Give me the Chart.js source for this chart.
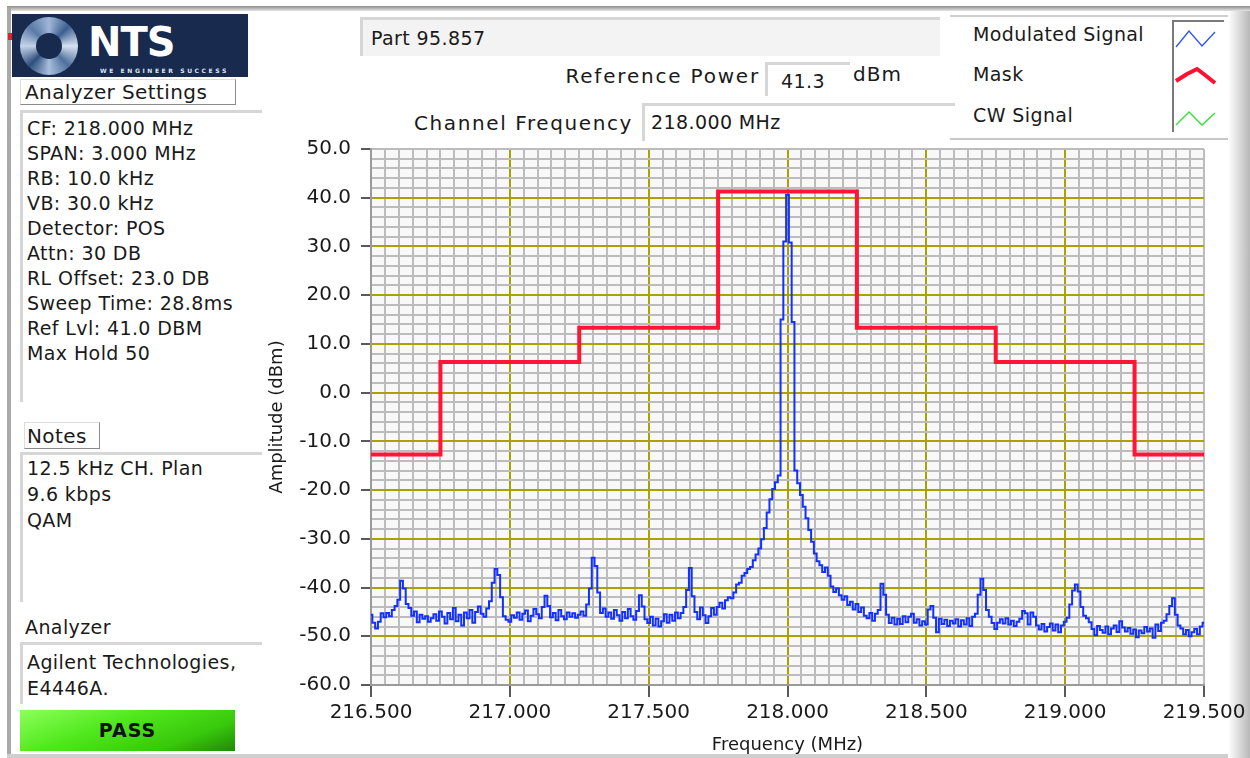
<!DOCTYPE html>
<html>
<head>
<meta charset="utf-8">
<title>Part 95.857 - Mask</title>
<script src="https://cdn.jsdelivr.net/npm/chart.js@4/dist/chart.umd.min.js"></script>
<style>
  body { margin: 0; width: 1250px; height: 758px; background: #fff; position: relative; overflow: hidden;
         font-family: "DejaVu Sans", sans-serif; color: #1a1a1a; }
  .abs { position: absolute; }
  .txt { font-size: 19px; letter-spacing: 0.4px; white-space: nowrap; }
  .box { background: #fff; border-top: 3px solid #d6d6d6; border-left: 3px solid #d6d6d6; box-sizing: border-box; }
  #chartWrap { left: 260px; top: 127px; width: 990px; height: 631px; }
</style>
</head>
<body>
<!-- marco del panel -->
<div class="abs" style="left:7px;top:6px;width:1243px;height:5px;background:linear-gradient(#8c8c8c,#e4e4e4);"></div>
<div class="abs" style="left:7px;top:8px;width:4px;height:750px;background:#a9a9a9;"></div>
<div class="abs" style="left:7px;top:754px;width:1243px;height:4px;background:#cfcfcf;"></div>
<div class="abs" style="left:1228px;top:11px;width:22px;height:747px;background:linear-gradient(90deg,#fff,#b8b8b8);"></div>
<div class="abs" style="left:8px;top:33px;width:4px;height:7px;background:#e0202a;"></div>

<!-- logo -->
<div class="abs" style="left:12px;top:14px;width:236px;height:63px;background:#182a4e;overflow:hidden;">
  <div class="abs" style="left:8px;top:3px;width:58px;height:58px;border-radius:50%;
       background:conic-gradient(#9fb6d8,#3d5f8f,#d7e2f0,#506f9c,#a8bfdc,#2e4f7e,#c4d3e8,#5a79a6,#9fb6d8);"></div>
  <div class="abs" style="left:24px;top:19px;width:26px;height:26px;border-radius:50%;background:#182a4e;"></div>
  <div class="abs" style="left:76px;top:5px;font:900 40px 'DejaVu Sans';color:#fff;letter-spacing:-1px;">NTS</div>
  <div class="abs" style="left:88px;top:53px;font:bold 6px 'DejaVu Sans';color:#dfe6f2;letter-spacing:2.6px;">WE ENGINEER SUCCESS</div>
</div>

<!-- columna izquierda -->
<div class="abs txt" style="left:20px;top:79px;width:216px;height:26px;border:1px solid #8a8a8a;border-left-color:#ddd;border-top-color:#ddd;box-sizing:border-box;padding-left:4px;line-height:25px;font-size:20px;">Analyzer Settings</div>
<div class="abs box" style="left:20px;top:110px;width:242px;height:292px;"></div>
<div class="abs txt" id="settings" style="left:27px;top:116px;"></div>

<div class="abs txt" style="left:24px;top:422px;width:76px;height:27px;border:1px solid #8a8a8a;border-left-color:#ddd;border-top-color:#ddd;box-sizing:border-box;padding-left:2px;line-height:26px;font-size:20px;">Notes</div>
<div class="abs box" style="left:20px;top:452px;width:242px;height:150px;"></div>
<div class="abs txt" id="notes" style="left:27px;top:455px;"></div>

<div class="abs txt" style="left:25px;top:616px;font-size:19px;">Analyzer</div>
<div class="abs box" style="left:20px;top:642px;width:242px;height:62px;"></div>
<div class="abs txt" id="analyzer" style="left:27px;top:649px;"></div>

<div class="abs" style="left:20px;top:710px;width:215px;height:41px;background:linear-gradient(160deg,#8dff5a 0%,#4fe81c 40%,#38c80c 75%,#1e8a06 100%);
     text-align:center;font:bold 19px 'DejaVu Sans';line-height:41px;letter-spacing:1px;color:#111;">PASS</div>

<!-- cabecera -->
<div class="abs box txt" style="left:360px;top:17px;width:580px;height:39px;background:#f3f3f3;padding-left:8px;line-height:36px;">Part 95.857</div>
<div class="abs txt" style="left:500px;top:64px;width:260px;text-align:right;font-size:20px;letter-spacing:1.8px;">Reference Power</div>
<div class="abs box txt" style="left:765px;top:62px;width:85px;height:34px;padding-left:13px;line-height:32px;">41.3</div>
<div class="abs txt" style="left:853px;top:62px;font-size:20px;letter-spacing:1px;">dBm</div>
<div class="abs txt" style="left:360px;top:111px;width:273px;text-align:right;font-size:20px;letter-spacing:1.6px;">Channel Frequency</div>
<div class="abs box txt" style="left:642px;top:103px;width:313px;height:38px;padding-left:6px;line-height:32px;">218.000 MHz</div>

<!-- leyenda -->
<div class="abs" style="left:950px;top:15px;width:278px;height:121px;border-top:2px solid #d0d0d0;border-bottom:2px solid #c8c8c8;"></div>
<div class="abs txt" style="left:973px;top:23px;">Modulated Signal</div>
<div class="abs txt" style="left:973px;top:63px;">Mask</div>
<div class="abs txt" style="left:973px;top:104px;">CW Signal</div>
<svg class="abs" style="left:1172px;top:20px;" width="52" height="112">
  <path d="M1 0 V112 M1 1 H52" stroke="#7a7a7a" stroke-width="2" fill="none"/>
  <polyline points="4,27 17,11 30,26 43,12" stroke="#2a50ff" stroke-width="1.3" fill="none"/>
  <polyline points="4,61 15,54 25,49 33,55 43,63" stroke="#ff1030" stroke-width="4" fill="none"/>
  <polyline points="4,105 17,92 30,105 43,93" stroke="#30e030" stroke-width="1.3" fill="none"/>
</svg>

<div class="abs" id="chartWrap"><canvas id="maskChart"></canvas></div>

<script>
const freqStart = 216.5;
const freqStep = 0.01;
const modulatedSignal = [
  -45.6, -47.2, -48.4, -47.0, -45.3, -46.1, -45.2, -45.9, -44.6, -43.8, // 216.50
  -42.5, -38.6, -40.2, -43.4, -44.2, -45.8, -44.9, -47.1, -45.6, -46.4, // 216.60
  -45.9, -47.0, -46.3, -45.5, -46.8, -44.9, -46.0, -47.4, -45.2, -46.5, // 216.70
  -44.2, -46.9, -45.6, -47.8, -45.1, -46.3, -44.6, -47.2, -45.0, -43.9, // 216.80
  -45.4, -46.0, -44.3, -42.8, -39.0, -36.2, -37.4, -42.0, -45.9, -46.6, // 216.90
  -47.0, -45.7, -46.2, -45.1, -46.6, -45.4, -44.7, -46.9, -45.8, -44.4, // 217.00
  -45.5, -46.3, -44.0, -41.7, -43.8, -46.1, -45.2, -46.7, -44.6, -45.9, // 217.10
  -46.5, -45.1, -46.0, -45.3, -46.2, -45.6, -44.9, -45.8, -43.5, -40.2, // 217.20
  -33.9, -35.6, -41.0, -45.2, -44.3, -46.0, -45.1, -46.4, -44.6, -45.7, // 217.30
  -46.8, -45.0, -46.3, -44.4, -45.9, -46.6, -44.8, -41.6, -43.9, -46.5, // 217.40
  -47.3, -46.0, -47.8, -46.4, -48.0, -46.9, -45.5, -47.2, -45.6, -46.8, // 217.50
  -45.1, -46.3, -45.2, -44.0, -40.5, -36.0, -41.8, -45.0, -46.5, -44.1, // 217.60
  -45.7, -47.3, -45.9, -44.2, -45.6, -44.0, -43.1, -44.3, -42.6, -42.0, // 217.70
  -42.2, -41.0, -39.4, -39.0, -37.6, -37.0, -36.2, -35.8, -34.4, -33.2, // 217.80
  -32.0, -30.1, -27.8, -24.6, -21.9, -19.8, -18.4, -17.0, 15.0, 31.0,   // 217.90
  40.6, 30.8, 14.5, -16.0, -18.6, -21.0, -23.4, -25.8, -28.2, -30.6,    // 218.00
  -33.0, -34.6, -35.4, -36.8, -35.9, -37.6, -39.8, -40.9, -40.2, -41.6, // 218.10
  -42.5, -41.8, -43.6, -42.9, -44.5, -43.4, -45.0, -44.1, -45.8, -46.3, // 218.20
  -45.2, -46.8, -45.4, -44.6, -39.2, -41.5, -45.6, -47.3, -46.2, -47.6, // 218.30
  -46.4, -47.5, -45.9, -47.1, -46.0, -45.4, -47.2, -46.5, -47.8, -46.9, // 218.40
  -47.6, -44.5, -43.8, -46.2, -49.2, -46.4, -47.5, -46.6, -47.9, -46.8, // 218.50
  -47.4, -46.5, -48.0, -46.7, -47.6, -46.3, -47.9, -46.0, -45.4, -41.5, // 218.60
  -38.2, -40.5, -44.6, -46.0, -47.3, -48.5, -47.2, -46.5, -47.4, -46.3, // 218.70
  -47.6, -46.8, -47.9, -47.0, -46.4, -44.8, -45.3, -47.6, -45.1, -46.0, // 218.80
  -47.8, -48.6, -47.5, -49.0, -48.1, -47.4, -48.8, -47.6, -49.2, -47.8, // 218.90
  -47.0, -46.2, -43.5, -40.6, -39.4, -40.8, -44.0, -45.8, -46.3, -47.1, // 219.00
  -48.5, -49.8, -47.9, -48.7, -49.3, -48.0, -49.6, -48.4, -47.8, -49.1, // 219.10
  -46.9, -48.2, -49.0, -48.3, -49.5, -48.6, -50.2, -48.8, -49.4, -48.1, // 219.20
  -49.0, -48.4, -50.3, -47.6, -48.9, -47.2, -46.8, -45.5, -43.8, -42.2, // 219.30
  -45.6, -47.8, -48.4, -49.6, -48.7, -50.0, -49.2, -48.5, -49.6, -48.0, // 219.40
  -47.2                                                                 // 219.50
];

// Máscara (escalones)
const maskFreqs = [216.5, 216.75, 217.25, 217.75, 218.25, 218.75, 219.25, 219.5];
const maskLevels = [-12.7, 6.3, 13.3, 41.3, 13.3, 6.3, -12.7, -12.7];

// Señal CW (sin datos en esta captura)
const cwSignal = [];

// Marcas principales de los ejes
const freqTicks = [216.5, 217.0, 217.5, 218.0, 218.5, 219.0, 219.5];
const ampTicks = [-60, -50, -40, -30, -20, -10, 0, 10, 20, 30, 40, 50];

// Textos del panel
const settingsLines = ['CF: 218.000 MHz', 'SPAN: 3.000 MHz', 'RB: 10.0 kHz', 'VB: 30.0 kHz', 'Detector: POS',
  'Attn: 30 DB', 'RL Offset: 23.0 DB', 'Sweep Time: 28.8ms', 'Ref Lvl: 41.0 DBM', 'Max Hold 50'];
const notesLines = ['12.5 kHz CH. Plan', '9.6 kbps', 'QAM'];
const analyzerLines = ['Agilent Technologies,', 'E4446A.'];

function fillLines(id, lines, h) {
  const el = document.getElementById(id);
  el.innerHTML = lines.map(t => `<div style="height:${h}px;line-height:${h}px">${t}</div>`).join('');
}
fillLines('settings', settingsLines, 25);
fillLines('notes', notesLines, 26);
fillLines('analyzer', analyzerLines, 26);

const isMajor = (list, v) => list.some(t => Math.abs(t - v) < 1e-6);
const OLIVE = '#aaa200';
const GRIDGRAY = '#bcbcbc';

// fondo del área de trazado
const plotBg = {
  id: 'plotBg',
  beforeDraw(chart) {
    const a = chart.chartArea, ctx = chart.ctx;
    ctx.save();
    ctx.fillStyle = '#f8f8f8';
    ctx.fillRect(a.left, a.top, a.right - a.left, a.bottom - a.top);
    ctx.restore();
  }
};

function renderChart() {
  const ctx = document.getElementById('maskChart').getContext('2d');
  new Chart(ctx, {
    type: 'line',
    data: {
      datasets: [
        {
          label: 'Mask',
          data: maskFreqs.map((f, i) => ({ x: f, y: maskLevels[i] })),
          borderColor: '#ff1535',
          borderWidth: 4,
          pointRadius: 0,
          stepped: 'before',
          order: 0
        },
        {
          label: 'Modulated Signal',
          data: modulatedSignal.map((v, i) => ({ x: freqStart + i * freqStep, y: v })),
          borderColor: '#1230ff',
          borderWidth: 2,
          pointRadius: 0,
          stepped: 'middle',
          order: 1
        },
        {
          label: 'CW Signal',
          data: cwSignal,
          borderColor: '#30e030',
          borderWidth: 1,
          pointRadius: 0,
          order: 2
        }
      ]
    },
    options: {
      responsive: true,
      maintainAspectRatio: false,
      animation: false,
      layout: { padding: { top: 20, right: 46, left: 0, bottom: 0 } },
      plugins: { legend: { display: false }, tooltip: { enabled: false } },
      scales: {
        x: {
          type: 'linear',
          min: 216.5,
          max: 219.5,
          afterFit: s => { s.height = 73; },
          border: { color: '#9a9a9a', width: 2 },
          grid: {
            lineWidth: 2,
            tickLength: 12,
            tickWidth: 1.5,
            color: c => (c.tick && isMajor(freqTicks, c.tick.value) && c.index > 0 && c.index < 60) ? OLIVE : GRIDGRAY,
            tickColor: c => (c.tick && isMajor(freqTicks, c.tick.value)) ? '#222' : 'rgba(0,0,0,0)'
          },
          ticks: {
            stepSize: 0.05,
            autoSkip: false,
            maxRotation: 0,
            minRotation: 0,
            padding: 4,
            color: '#1a1a1a',
            font: { family: 'DejaVu Sans', size: 20 },
            callback: v => isMajor(freqTicks, v) ? v.toFixed(3) : ''
          },
          title: {
            display: true,
            text: 'Frequency (MHz)',
            color: '#1a1a1a',
            font: { family: 'DejaVu Sans', size: 18 },
            padding: { top: 0, bottom: 2 }
          }
        },
        y: {
          min: -60,
          max: 50,
          afterFit: s => { s.width = 111; },
          border: { color: '#9a9a9a', width: 2 },
          grid: {
            lineWidth: 2,
            tickLength: 10,
            tickWidth: 1.5,
            color: c => (c.tick && isMajor(ampTicks, c.tick.value) && c.tick.value > -60 && c.tick.value < 50) ? OLIVE : GRIDGRAY,
            tickColor: c => (c.tick && isMajor(ampTicks, c.tick.value)) ? '#222' : 'rgba(0,0,0,0)'
          },
          ticks: {
            stepSize: 2,
            autoSkip: false,
            padding: 10,
            color: '#1a1a1a',
            font: { family: 'DejaVu Sans', size: 20 },
            callback: v => isMajor(ampTicks, v) ? v.toFixed(1) : ''
          },
          title: {
            display: true,
            text: 'Amplitude (dBm)',
            color: '#1a1a1a',
            font: { family: 'DejaVu Sans', size: 18 },
            padding: { top: 7, bottom: 0 }
          }
        }
      }
    },
    plugins: [plotBg]
  });
}

renderChart();
</script>
</body>
</html>
